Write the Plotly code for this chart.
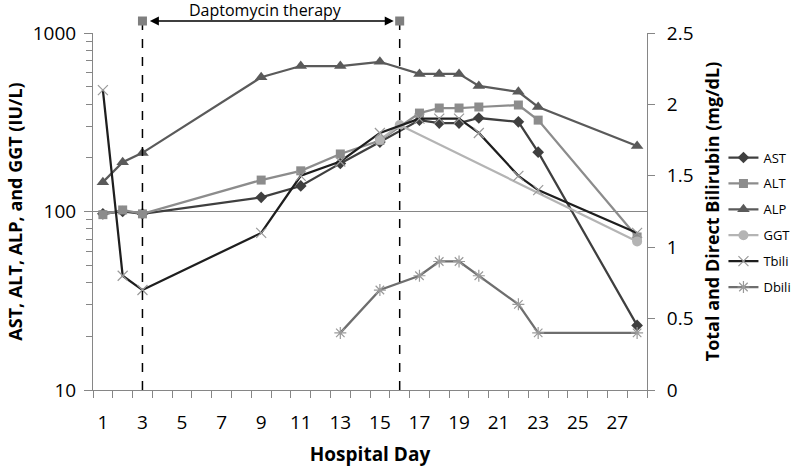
import plotly.graph_objects as go

# ---- data ----
ast_days = [1, 2, 3, 9, 11, 13, 15, 17, 18, 19, 20, 22, 23, 28]
ast_vals = [97, 100, 97, 120, 139, 186, 245, 325, 313, 313, 334, 318, 215, 23]

alt_days = [1, 2, 3, 9, 11, 13, 15, 17, 18, 19, 20, 22, 23, 28]
alt_vals = [96, 102, 97, 150, 169, 210, 250, 356, 380, 380, 385, 395, 325, 72]

alp_days = [1, 2, 3, 9, 11, 13, 15, 17, 18, 19, 20, 22, 23, 28]
alp_vals = [146, 189, 213, 565, 653, 653, 690, 590, 590, 590, 505, 468, 385, 233]

ggt_days = [15, 16, 28]
ggt_vals = [252, 305, 68]

tbili_days = [1, 2, 3, 9, 11, 13, 15, 17, 18, 19, 20, 22, 23, 28]
tbili_vals = [2.1, 0.8, 0.7, 1.1, 1.5, 1.6, 1.8, 1.9, 1.9, 1.9, 1.8, 1.5, 1.4, 1.1]

dbili_days = [13, 15, 17, 18, 19, 20, 22, 23, 28]
dbili_vals = [0.4, 0.7, 0.8, 0.9, 0.9, 0.8, 0.6, 0.4, 0.4]

therapy_days = [3, 16]
therapy_label = "Daptomycin therapy"

x_tick_days = list(range(1, 28, 2))
y_left_ticks = [10, 100, 1000]
y_right_ticks = [0, 0.5, 1, 1.5, 2, 2.5]
y_right_labels = ["0", "0.5", "1", "1.5", "2", "2.5"]

FONT = "Open Sans"
AXIS_GRAY = "#868686"

fig = go.Figure()


def add(days, vals, name, color, symbol, size, yaxis="y", mline=None):
    marker = dict(symbol=symbol, size=size, color=color)
    if mline is not None:
        marker["line"] = mline
    fig.add_trace(go.Scatter(
        x=days, y=vals, name=name, mode="lines+markers", yaxis=yaxis,
        line=dict(color=color, width=2.25), marker=marker,
        legendgroup=name, cliponaxis=False,
    ))


add(ast_days, ast_vals, "AST", "#3F3F3F", "diamond", 9)
add(alt_days, alt_vals, "ALT", "#8C8C8C", "square", 9)
add(alp_days, alp_vals, "ALP", "#5A5A5A", "triangle-up", 11)
add(ggt_days, ggt_vals, "GGT", "#B4B4B4", "circle", 10)
add(tbili_days, tbili_vals, "Tbili", "#1E1E1E", "x-thin", 10, "y2",
    mline=dict(color="#9A9A9A", width=1.2))
add(dbili_days, dbili_vals, "Dbili", "#6E6E6E", "asterisk", 10, "y2",
    mline=dict(color="#9A9A9A", width=1.2))

top_y = (390 - 21) / 357  # paper position of therapy markers above plot
label_y = (390 - 10) / 357

shapes = []
for d in therapy_days:
    shapes.append(dict(type="line", xref="x", yref="paper", x0=d, x1=d,
                       y0=0, y1=top_y, line=dict(color="black", width=1.5, dash="dash")))
    shapes.append(dict(type="rect", xref="x", yref="paper",
                       xsizemode="pixel", ysizemode="pixel",
                       xanchor=d, yanchor=top_y, x0=-4.5, x1=4.5, y0=-4.5, y1=4.5,
                       fillcolor="#7F7F7F", line=dict(width=0)))

annotations = [
    dict(xref="x", yref="paper", x=therapy_days[1] - 0.3, y=top_y,
         axref="x", ayref="pixel", ax=therapy_days[0] + 0.3, ay=0,
         showarrow=True, arrowhead=2, startarrowhead=2, arrowside="end+start",
         arrowsize=1.2, arrowwidth=1.5, arrowcolor="black", text=""),
    dict(xref="x", yref="paper", x=sum(therapy_days) / 2 - 0.3, y=label_y,
         yanchor="middle", xanchor="center",
         text=therapy_label, showarrow=False, font=dict(size=16, color="black", family=FONT)),
]

fig.update_layout(
    width=800, height=467,
    margin=dict(l=93, r=153, t=33, b=77, autoexpand=False),
    paper_bgcolor="white", plot_bgcolor="white",
    font=dict(family=FONT, color="black", size=18),
    showlegend=True,
    legend=dict(x=1.138, y=0.469, xanchor="left", yanchor="middle",
                font=dict(size=13, family=FONT), tracegroupgap=6,
                itemwidth=30, bgcolor="rgba(0,0,0,0)"),
    xaxis=dict(range=[0.5, 28.5], tickvals=x_tick_days, ticktext=[str(v) for v in x_tick_days],
               ticks="", showline=True, linecolor=AXIS_GRAY, linewidth=1, showgrid=False,
               zeroline=False, tickfont=dict(size=19), ticklabelstandoff=15,
               minor=dict(tickvals=[v + 0.5 for v in range(0, 29)], ticks="outside",
                          ticklen=7, tickcolor=AXIS_GRAY, showgrid=False),
               title=dict(text="<b>Hospital Day</b>", font=dict(size=19), standoff=15)),
    yaxis=dict(type="log", range=[1, 3], tickvals=y_left_ticks,
               ticktext=[str(v) for v in y_left_ticks],
               ticks="outside", ticklen=8, tickcolor=AXIS_GRAY,
               showline=True, linecolor=AXIS_GRAY, showgrid=True, gridcolor=AXIS_GRAY,
               gridwidth=1, zeroline=False, tickfont=dict(size=19), ticklabelstandoff=4,
               minor=dict(tickvals=[m * 10 ** e for e in (1, 2) for m in range(2, 10)],
                          ticks="outside", ticklen=6, tickcolor=AXIS_GRAY, showgrid=False),
               title=dict(text="<b>AST, ALT, ALP, and GGT (IU/L)</b>", font=dict(size=18),
                          standoff=5)),
    yaxis2=dict(overlaying="y", side="right", range=[0, 2.5], tickvals=y_right_ticks,
                ticktext=y_right_labels,
                ticks="outside", ticklen=7, tickcolor=AXIS_GRAY,
                showline=True, linecolor=AXIS_GRAY, showgrid=False, zeroline=False,
                tickfont=dict(size=19), ticklabelstandoff=8,
                title=dict(text="<b>Total and Direct Bilirubin (mg/dL)</b>", font=dict(size=18),
                           standoff=13)),
    shapes=shapes, annotations=annotations,
)

fig.write_html("out.html", config={"displayModeBar": False},
               post_script="document.body.style.margin='0px';")
